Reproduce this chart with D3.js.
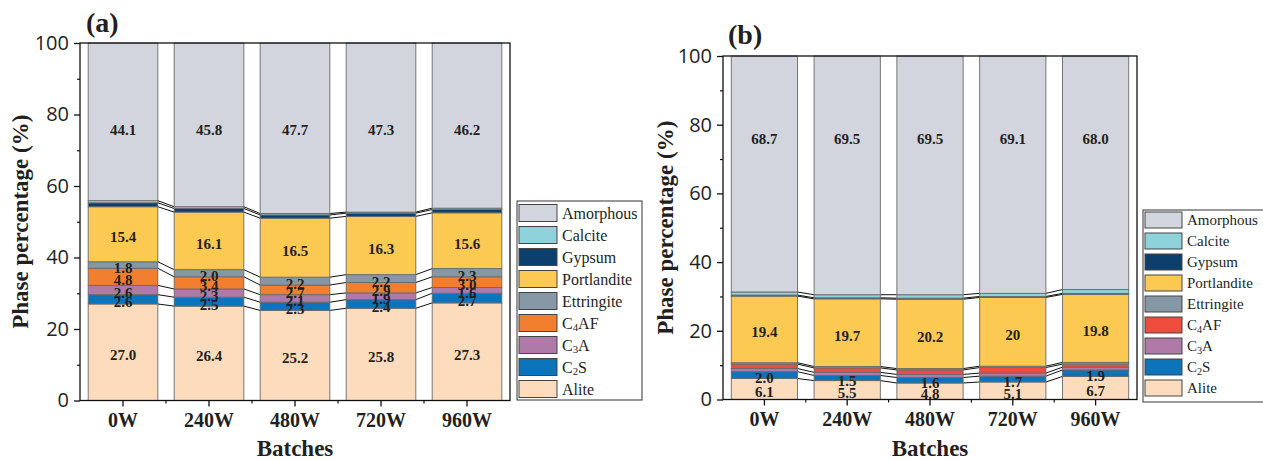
<!DOCTYPE html>
<html><head><meta charset="utf-8">
<script src="https://cdn.jsdelivr.net/npm/d3@7/dist/d3.min.js"></script>
<style>body{margin:0;background:#fff}svg{display:block}</style>
</head><body>
<svg id="c" width="1263" height="460"></svg>
<script>
const batches = ["0W","240W","480W","720W","960W"];
const phases = ["Alite","C2S","C3A","C4AF","Ettringite","Portlandite","Gypsum","Calcite","Amorphous"];
const legendOrder = ["Amorphous","Calcite","Gypsum","Portlandite","Ettringite","C4AF","C3A","C2S","Alite"];
const yTicks = [0,20,40,60,80,100];

// Panel (a)
const aAlite = [27.0,26.4,25.2,25.8,27.3];
const aC2S = [2.6,2.5,2.3,2.4,2.7];
const aC3A = [2.6,2.3,2.1,1.9,1.6];
const aC4AF = [4.8,3.4,2.7,2.9,3.0];
const aEttringite = [1.8,2.0,2.2,2.2,2.3];
const aPortlandite = [15.4,16.1,16.5,16.3,15.6];
const aGypsum = [1.1,1.0,0.9,0.9,0.9];
const aCalcite = [0.6,0.5,0.4,0.3,0.4];
const aAmorphous = [44.1,45.8,47.7,47.3,46.2];
const aLabelled = ["Alite","C2S","C3A","C4AF","Ettringite","Portlandite","Amorphous"];

// Panel (b)
const bAlite = [6.1,5.5,4.8,5.1,6.7];
const bC2S = [2.0,1.5,1.6,1.7,1.9];
const bC3A = [0.9,0.9,0.9,0.9,0.8];
const bC4AF = [1.3,1.3,1.3,1.6,0.9];
const bEttringite = [0.4,0.4,0.4,0.4,0.5];
const bPortlandite = [19.4,19.7,20.2,20,19.8];
const bGypsum = [0.3,0.3,0.3,0.3,0.3];
const bCalcite = [0.9,0.9,1.0,0.9,1.1];
const bAmorphous = [68.7,69.5,69.5,69.1,68.0];
const bLabels = {Portlandite:["19.4","19.7","20.2","20","19.8"]};
const bLabelled = ["Alite","C2S","Portlandite","Amorphous"];

const colorsA = {Amorphous:"#d2d5de",Calcite:"#8ed2dc",Gypsum:"#0c3f6c",Portlandite:"#fcca52",
  Ettringite:"#8698a6",C4AF:"#f17f2f",C3A:"#b07aa8",C2S:"#0b74bb",Alite:"#fcdcbd"};
const colorsB = Object.assign({}, colorsA, {C4AF:"#ee4c3c"});

const svg = d3.select("#c");
const serif = "'Liberation Serif','Times New Roman',serif";
const sans = "'Open Sans','Noto Sans',sans-serif";

function panel(cfg){
  const {left,right,top,bottom,data,colors,labelled,labels,pad,title,titlePos,ylabX,legend} = cfg;
  const rows = batches.map((b,i)=>{const r={batch:b}; phases.forEach(p=>r[p]=data[p][i]); return r;});
  const stack = d3.stack().keys(phases)(rows);
  const x = d3.scaleBand().domain(batches).range([left,right]).paddingInner(pad).paddingOuter(pad/2);
  const y = d3.scaleLinear().domain([0,100]).range([bottom,top]);
  const g = svg.append("g");

  // connecting lines
  stack.forEach(s=>{
    for(let i=0;i<batches.length-1;i++){
      const v1=s[i][1], v2=s[i+1][1];
      if(v1>=99.99 && v2>=99.99) continue;
      g.append("line").attr("x1",x(batches[i])+x.bandwidth()).attr("y1",y(v1))
        .attr("x2",x(batches[i+1])).attr("y2",y(v2)).attr("stroke","#111").attr("stroke-width",1);
    }
  });
  // bars
  stack.forEach(s=>{
    g.selectAll(null).data(s).enter().append("rect")
      .attr("x",d=>x(d.data.batch)).attr("width",x.bandwidth())
      .attr("y",d=>y(d[1])).attr("height",d=>y(d[0])-y(d[1]))
      .attr("fill",colors[s.key]).attr("stroke","#6a6a6a").attr("stroke-width",0.9);
  });
  // labels
  stack.forEach(s=>{
    if(!labelled.includes(s.key)) return;
    g.selectAll(null).data(s).enter().append("text")
      .attr("x",d=>x(d.data.batch)+x.bandwidth()/2)
      .attr("y",d=> s.key==="Amorphous" ? y(75.8) : y((d[0]+d[1])/2)+3)
      .attr("text-anchor","middle").attr("dominant-baseline","central")
      .attr("font-family",serif).attr("font-weight","bold").attr("font-size",15).attr("fill","#231f20")
      .text((d,i)=> (labels && labels[s.key]) ? labels[s.key][i] : d3.format(".1f")(d[1]-d[0]));
  });
  // frame
  g.append("rect").attr("x",left).attr("y",top).attr("width",right-left).attr("height",bottom-top)
    .attr("fill","none").attr("stroke","#111").attr("stroke-width",1.3);
  // y axis
  const ya = g.append("g").attr("transform",`translate(${left},0)`)
    .call(d3.axisLeft(y).tickValues(yTicks).tickSize(6).tickPadding(5).tickFormat(d3.format("d")));
  ya.select(".domain").remove();
  ya.selectAll("text").attr("font-family",sans).attr("font-size",20).attr("fill","#231f20");
  ya.selectAll("line").attr("stroke","#111").attr("stroke-width",1.3);
  const ym = g.append("g").attr("transform",`translate(${left},0)`)
    .call(d3.axisLeft(y).tickValues([10,30,50,70,90]).tickSize(3).tickFormat(""));
  ym.select(".domain").remove(); ym.selectAll("line").attr("stroke","#111").attr("stroke-width",1.2);
  // x axis
  const xa = g.append("g").attr("transform",`translate(0,${bottom})`)
    .call(d3.axisBottom(x).tickSize(6).tickPadding(6));
  xa.select(".domain").remove();
  xa.selectAll("text").attr("font-family",serif).attr("font-weight","bold").attr("font-size",20).attr("fill","#231f20");
  xa.selectAll("line").attr("stroke","#111").attr("stroke-width",1.3);
  const minor = batches.slice(1).map(b=>x(b)-x.step()*pad/2);
  g.selectAll(null).data(minor).enter().append("line")
    .attr("x1",d=>d).attr("x2",d=>d).attr("y1",bottom).attr("y2",bottom+3)
    .attr("stroke","#111").attr("stroke-width",1.2);
  // axis titles
  g.append("text").attr("x",(left+right)/2).attr("y",456).attr("text-anchor","middle")
    .attr("font-family",serif).attr("font-weight","bold").attr("font-size",23).attr("fill","#231f20").text("Batches");
  g.append("text").attr("transform",`translate(${ylabX},${(top+bottom)/2}) rotate(-90)`)
    .attr("text-anchor","middle").attr("font-family",serif).attr("font-weight","bold")
    .attr("font-size",23).attr("fill","#231f20").text("Phase percentage (%)");
  g.append("text").attr("x",titlePos[0]).attr("y",titlePos[1]).attr("font-family",serif)
    .attr("font-weight","bold").attr("font-size",28).attr("fill","#231f20").text(title);
  // legend
  const L = legend;
  g.append("rect").attr("x",L.x).attr("y",L.y).attr("width",L.w).attr("height",L.h)
    .attr("fill","#fff").attr("stroke","#333").attr("stroke-width",1);
  legendOrder.forEach((k,i)=>{
    const cy = L.first + i*L.step;
    g.append("rect").attr("x",L.x+2).attr("y",cy-L.sh/2).attr("width",L.sw).attr("height",L.sh)
      .attr("fill",colors[k]).attr("stroke","#444").attr("stroke-width",1);
    const t = g.append("text").attr("x",L.x+2+L.sw+5).attr("y",cy).attr("dominant-baseline","central")
      .attr("font-family",serif).attr("font-size",L.fs).attr("fill","#231f20");
    const m = k.match(/^C(\d)(.*)$/);
    if(m){
      t.append("tspan").text("C");
      t.append("tspan").attr("dy",4).attr("font-size",L.fs*0.68).text(m[1]);
      t.append("tspan").attr("dy",-4).text(m[2]);
    } else t.text(k);
  });
}

panel({left:80,right:510,top:43,bottom:400.5,pad:0.19,colors:colorsA,labelled:aLabelled,
  data:{Alite:aAlite,C2S:aC2S,C3A:aC3A,C4AF:aC4AF,Ettringite:aEttringite,Portlandite:aPortlandite,Gypsum:aGypsum,Calcite:aCalcite,Amorphous:aAmorphous},
  title:"(a)",titlePos:[86,32],ylabX:28,
  legend:{x:517,y:201,w:125,h:199,first:213,step:22,sw:38,sh:17,fs:16}});
panel({left:723,right:1137,top:56,bottom:399.5,pad:0.2,colors:colorsB,labelled:bLabelled,labels:bLabels,
  data:{Alite:bAlite,C2S:bC2S,C3A:bC3A,C4AF:bC4AF,Ettringite:bEttringite,Portlandite:bPortlandite,Gypsum:bGypsum,Calcite:bCalcite,Amorphous:bAmorphous},
  title:"(b)",titlePos:[728,44],ylabX:673,
  legend:{x:1143,y:210,w:130,h:192,first:220,step:21,sw:37,sh:16,fs:15}});
</script>
</body></html>
